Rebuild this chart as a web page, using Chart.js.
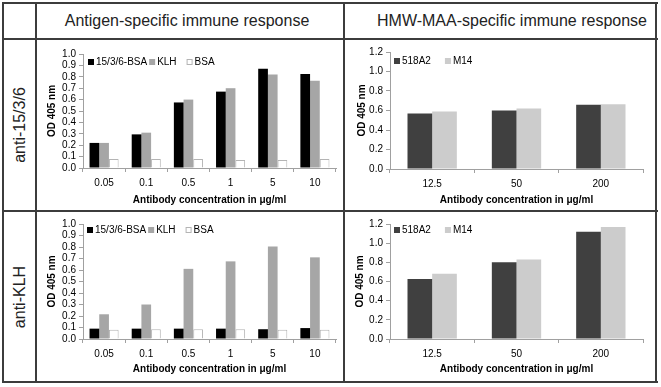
<!DOCTYPE html>
<html><head><meta charset="utf-8">
<script src="https://cdn.jsdelivr.net/npm/chart.js@4"></script>
<style>
html,body{margin:0;padding:0;background:#fff;}
#wrap{position:relative;width:661px;height:387px;overflow:hidden;font-family:"Liberation Sans",Arial,sans-serif;}
.ln{position:absolute;background:#3c3c3c;}
.cv{position:absolute;}
.hdr{position:absolute;font-size:16px;color:#222;white-space:nowrap;transform:translate(-50%,-50%);line-height:1;}
.row{position:absolute;font-size:16px;color:#222;white-space:nowrap;transform:translate(-50%,-50%) rotate(-90deg);line-height:1;}
</style></head>
<body>
<div id="wrap">
  <div class="ln" style="left:2px;top:2px;width:656px;height:2px"></div>
  <div class="ln" style="left:2px;top:381px;width:656px;height:2px"></div>
  <div class="ln" style="left:2px;top:2px;width:2px;height:381px"></div>
  <div class="ln" style="left:655px;top:2px;width:2px;height:381px"></div>
  <div class="ln" style="left:35px;top:2px;width:2px;height:381px"></div>
  <div class="ln" style="left:343px;top:2px;width:2px;height:381px"></div>
  <div class="ln" style="left:2px;top:38px;width:656px;height:2px"></div>
  <div class="ln" style="left:2px;top:210px;width:656px;height:2px"></div>
  <div class="hdr" style="left:187px;top:21px">Antigen-specific immune response</div>
  <div class="hdr" style="left:512px;top:21px">HMW-MAA-specific immune response</div>
  <div class="row" style="left:20px;top:125px">anti-15/3/6</div>
  <div class="row" style="left:20px;top:297px">anti-KLH</div>
  <canvas class="cv" id="c1" width="306" height="170" style="left:37px;top:40px"></canvas>
  <canvas class="cv" id="c2" width="310" height="170" style="left:345px;top:40px"></canvas>
  <canvas class="cv" id="c3" width="306" height="169" style="left:37px;top:212px"></canvas>
  <canvas class="cv" id="c4" width="310" height="169" style="left:345px;top:212px"></canvas>
</div>
<script>
// ---- data ----
const categoriesAntigen = ['0.05', '0.1', '0.5', '1', '5', '10'];
const categoriesHmw = ['12.5', '50', '200'];
const seriesNamesAntigen = ['15/3/6-BSA', 'KLH', 'BSA'];
const seriesNamesHmw = ['518A2', 'M14'];

const anti1536_BSA1536 = [0.22, 0.295, 0.575, 0.67, 0.87, 0.825];
const anti1536_KLH     = [0.22, 0.31, 0.60, 0.70, 0.82, 0.765];
const anti1536_BSA     = [0.08, 0.08, 0.08, 0.07, 0.07, 0.08];
const antiKLH_BSA1536  = [0.09, 0.09, 0.09, 0.09, 0.085, 0.095];
const antiKLH_KLH      = [0.215, 0.30, 0.61, 0.675, 0.805, 0.71];
const antiKLH_BSA      = [0.08, 0.085, 0.085, 0.085, 0.08, 0.08];
const anti1536_518A2   = [0.57, 0.60, 0.66];
const anti1536_M14     = [0.59, 0.62, 0.665];
const antiKLH_518A2    = [0.625, 0.80, 1.12];
const antiKLH_M14      = [0.68, 0.83, 1.17];

const yTicksAntigen = [0.0, 0.1, 0.2, 0.3, 0.4, 0.5, 0.6, 0.7, 0.8, 0.9, 1.0];
const yTicksHmw = [0.0, 0.2, 0.4, 0.6, 0.8, 1.0, 1.2];
const yTitle = 'OD 405 nm';
const xTitle = 'Antibody concentration in μg/ml';

// ---- styling ----
const FONT = "'Liberation Sans', Arial, sans-serif";
Chart.defaults.font.family = FONT;
Chart.defaults.color = '#000';
const AXIS = '#a0a0a0';

// horizontal legend drawn inside the plot area (as in the original)
const inlineLegend = {
  id: 'inlineLegend',
  afterDraw(chart, args, opts) {
    const ctx = chart.ctx, ca = chart.chartArea;
    let x = ca.left + opts.dx;
    const y = ca.top + opts.dy;
    ctx.save();
    ctx.font = '10px ' + FONT;
    ctx.textBaseline = 'middle';
    chart.data.datasets.forEach((ds, i) => {
      ctx.fillStyle = ds.backgroundColor;
      ctx.fillRect(x, y - 3, 6, 6);
      if (ds.borderWidth) {
        ctx.strokeStyle = ds.borderColor; ctx.lineWidth = 1;
        ctx.strokeRect(x + 0.5, y - 2.5, 5, 5);
      }
      ctx.fillStyle = '#000';
      ctx.fillText(ds.label, x + 8, y + 0.5);
      x += 8 + ctx.measureText(ds.label).width + (opts.gaps[i] || 3);
    });
    ctx.restore();
  }
};

function antigenSets(a, b, c) {
  return [
    {label: seriesNamesAntigen[0], data: a, backgroundColor: '#000000', borderWidth: 0},
    {label: seriesNamesAntigen[1], data: b, backgroundColor: '#a6a6a6', borderWidth: 0},
    {label: seriesNamesAntigen[2], data: c, backgroundColor: '#ffffff', borderColor: '#b4b4b4', borderWidth: 1}
  ];
}
function hmwSets(a, b) {
  return [
    {label: seriesNamesHmw[0], data: a, backgroundColor: '#404040', borderWidth: 0},
    {label: seriesNamesHmw[1], data: b, backgroundColor: '#cccccc', borderWidth: 0}
  ];
}

function makeChart(id, cats, datasets, yTicks, o) {
  const yMax = yTicks[yTicks.length - 1];
  return new Chart(document.getElementById(id), {
    type: 'bar',
    data: {labels: cats, datasets: datasets.map(d => Object.assign({categoryPercentage: o.cat, barPercentage: 1.0}, d))},
    plugins: [inlineLegend],
    options: {
      responsive: false, animation: false, devicePixelRatio: 1,
      layout: {padding: {left: o.pl, right: o.pr, top: o.pt, bottom: o.pb}},
      plugins: {
        tooltip: {enabled: false},
        legend: {display: false},
        inlineLegend: {dx: o.ldx, dy: o.ldy, gaps: o.gaps}
      },
      scales: {
        x: {
          offset: true,
          grid: {offset: true, drawOnChartArea: false, drawTicks: true, tickLength: 4, color: AXIS},
          border: {color: AXIS, width: 1},
          ticks: {font: {size: 10}, color: '#000', padding: 5, maxRotation: 0, autoSkip: false},
          title: {display: true, text: xTitle, font: {size: 10, weight: 'bold'}, color: '#000', padding: {top: 0, bottom: 3}},
          afterFit: s => { s.height = o.xh; }
        },
        y: {
          min: 0, max: yMax,
          afterBuildTicks: s => { s.ticks = yTicks.map(v => ({value: v})); },
          grid: {drawOnChartArea: false, drawTicks: true, tickLength: 4, color: AXIS},
          border: {color: AXIS, width: 1},
          ticks: {font: {size: 10}, color: '#000', padding: 3, autoSkip: false, callback: v => Number(v).toFixed(1)},
          title: {display: true, text: yTitle, font: {size: 10, weight: 'bold'}, color: '#000', padding: {top: 4, bottom: 4}},
          afterFit: s => { s.width = o.yw; }
        }
      }
    }
  });
}

makeChart('c1', categoriesAntigen, antigenSets(anti1536_BSA1536, anti1536_KLH, anti1536_BSA), yTicksAntigen,
  {cat: 0.69, pl: 5, pr: 7, pt: 14, pb: 1, xh: 41, yw: 41, ldx: 5, ldy: 8, gaps: [2, 10]});
makeChart('c2', categoriesHmw, hmwSets(anti1536_518A2, anti1536_M14), yTicksHmw,
  {cat: 0.585, pl: 7, pr: 12, pt: 12, pb: 1, xh: 40, yw: 38, ldx: 4, ldy: 9, gaps: [14]});
makeChart('c3', categoriesAntigen, antigenSets(antiKLH_BSA1536, antiKLH_KLH, antiKLH_BSA), yTicksAntigen,
  {cat: 0.69, pl: 5, pr: 7, pt: 12, pb: 3, xh: 39, yw: 41, ldx: 4, ldy: 6, gaps: [2, 10]});
makeChart('c4', categoriesHmw, hmwSets(antiKLH_518A2, antiKLH_M14), yTicksHmw,
  {cat: 0.585, pl: 5, pr: 12, pt: 12, pb: 3, xh: 39, yw: 40, ldx: 4, ldy: 6, gaps: [14]});
</script>
</body></html>
